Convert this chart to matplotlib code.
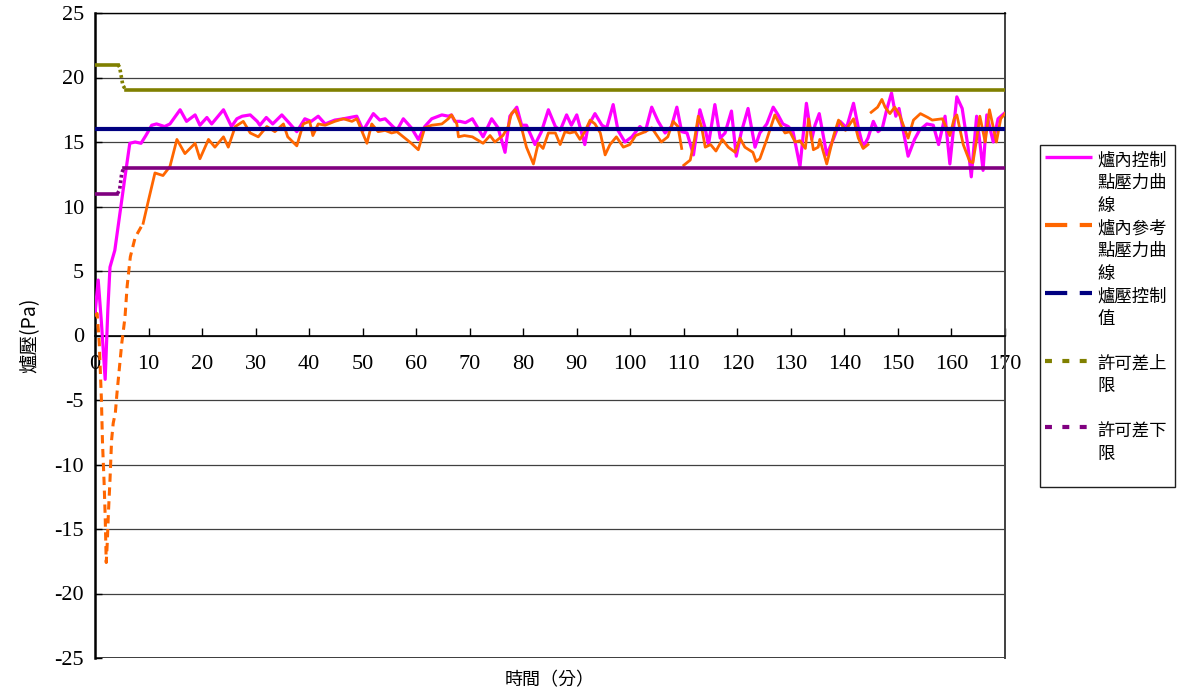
import numpy as np
import matplotlib
matplotlib.use("Agg")
import matplotlib.pyplot as plt
from matplotlib.lines import Line2D
from matplotlib.patches import Rectangle

plt.rcParams['lines.scale_dashes'] = False

# ---------------- data ----------------
pink_t = [0, 0.6, 1.2, 1.9, 2.4, 2.8, 3.7, 4.5, 5.5, 6.5, 7.5, 8.6, 9.5, 10.6, 11.5, 13, 14, 15.9, 17.1, 18.7,
          19.6, 20.9, 21.8, 24, 25.5, 26.5, 27.5, 29, 30.3, 30.8, 32, 33.2, 34.9, 36, 37.7, 39.2, 40.4, 41.7, 43, 44.8,
          46.4, 48.9, 50.1, 52, 53.2, 54.2, 55.4, 56.4, 57.6, 59.1, 60.4, 61.6, 62.9, 64.8, 66, 66.6, 67.2, 68.2, 69.2, 70.5,
          72.5, 74.1, 75.3, 76.6, 77.5, 78.8, 79.7, 80.6, 82.2, 83.4, 84.7, 86, 86.9, 88.1, 89, 90, 91.5, 92.1, 93.4, 94.7,
          95.6, 96.8, 97.7, 99, 100.3, 101.8, 102.8, 104, 105.2, 106.5, 107.7, 108.7, 109.6, 110.6, 111.8, 113, 113.9, 114.6, 115.8, 116.8,
          117.7, 118.9, 119.8, 120.7, 122, 123.3, 124.2, 125.5, 126.7, 127.6, 128.5, 129.5, 130.4, 131.7, 132.9, 133.9, 134.5, 135.3, 136.7, 138,
          139.2, 140.4, 141.7, 142.6, 143.5, 144.4, 145.4, 146.3, 147.1, 147.9, 148.8, 149.6, 150.2, 151.9, 153.1, 154, 155.4, 156.6, 157.6, 158.8,
          159.7, 161, 162, 163.1, 163.7, 164.7, 165.3, 165.9, 166.6, 167.8, 168.7, 169.8]
pink_v = [1.7, 4.3, 1.0, -3.4, 2.0, 5.3, 6.6, 9.0, 12.0, 14.9, 15.0, 14.9, 15.5, 16.3, 16.4, 16.2, 16.4, 17.5, 16.6, 17.1,
          16.3, 16.9, 16.4, 17.5, 16.2, 16.8, 17.0, 17.1, 16.6, 16.3, 16.9, 16.4, 17.1, 16.6, 15.8, 16.8, 16.6, 17.0, 16.4, 16.7,
          16.8, 17.0, 15.9, 17.2, 16.7, 16.8, 16.3, 15.9, 16.8, 16.1, 15.2, 16.2, 16.8, 17.1, 17.0, 17.1, 16.6, 16.6, 16.5, 16.8,
          15.4, 16.8, 16.1, 14.2, 17.0, 17.7, 16.3, 16.3, 14.8, 15.8, 17.5, 16.2, 15.9, 17.1, 16.3, 17.1, 14.8, 16.2, 17.2, 16.3,
          16.1, 17.9, 15.9, 15.0, 15.4, 16.2, 15.8, 17.7, 16.6, 15.7, 16.2, 17.7, 15.8, 15.7, 14.0, 17.5, 16.2, 14.8, 17.9, 15.3,
          15.7, 17.4, 13.9, 15.7, 17.6, 14.6, 15.7, 16.4, 17.7, 17.1, 16.4, 16.2, 15.8, 13.1, 18.0, 15.2, 16.3, 17.2, 14.0, 15.3,
          16.6, 16.1, 18.0, 16.1, 14.6, 15.3, 16.6, 15.8, 16.1, 17.5, 18.8, 17.0, 17.6, 13.9, 15.2, 15.9, 16.4, 16.3, 14.8, 17.0,
          13.3, 18.5, 17.6, 14.6, 12.3, 17.0, 15.0, 12.8, 17.1, 15.0, 16.8, 17.2]

orange_t = [0, 0.4, 0.8, 1.2, 1.4, 1.7, 1.9, 2.1, 2.3, 2.5, 2.8, 3.1, 3.4, 3.8, 4.1, 4.4, 5.0, 5.6, 6.0, 6.6,
            7.5, 9.0, 10.0, 11.2, 12.7, 14.0, 15.3, 16.8, 18.7, 19.6, 21.2, 22.4, 24.0, 24.9, 26.2, 27.7, 29.0, 30.5, 32.1, 33.6,
            35.2, 36, 37.7, 38.9, 40.1, 40.7, 41.7, 43, 44.8, 46.4, 48, 48.9, 49.8, 50.8, 51.7, 52.9, 54.2, 55.4, 56.4, 57.6,
            59.1, 60.4, 61.6, 62.9, 64.8, 66, 66.6, 67.6, 67.9, 69, 70.5, 72.5, 73.8, 74.7, 76.2, 77.2, 77.8, 78.5, 79.5, 80.6,
            81.9, 82.8, 83.7, 84.7, 86, 86.9, 87.8, 88.7, 89.7, 90.6, 91.5, 92.5, 93.4, 94.4, 95.3, 96.2, 97.4, 98.7, 99.9, 101,
            102.8, 104, 105.8, 107, 108, 108.9, 109.6, 109.8, 110, 111.2, 112, 112.7, 113.3, 114, 115, 116, 117.2, 118.3, 119.6, 120.5,
            121.4, 122.9, 123.5, 124.2, 125.5, 127, 127.9, 128.9, 129.8, 130.8, 131.7, 132.7, 133.3, 134.2, 135.1, 135.4, 136.7, 138, 138.9, 140.2,
            141.7, 142.6, 143.5, 144.4, 144.7, 145, 146.2, 147, 147.6, 148.5, 149.4, 150.3, 151.9, 152.9, 154.2, 155.6, 156.4, 158.3, 159.7, 160.5,
            161, 162.2, 163.4, 164, 164.7, 165.3, 166.3, 167.1, 168.4, 169.2, 170]
orange_v = [1.5, 1.7, -0.6, -5.0, -8.3, -11.4, -14.0, -17.6, -16.0, -13.8, -11.2, -8.1, -6.8, -6.0, -4.5, -3.2, -0.6, 1.4, 3.8, 6.1,
            7.6, 8.7, 10.5, 12.6, 12.4, 13.1, 15.2, 14.1, 14.9, 13.7, 15.2, 14.6, 15.4, 14.6, 16.2, 16.6, 15.7, 15.4, 16.2, 15.8,
            16.4, 15.4, 14.7, 16.4, 16.6, 15.5, 16.4, 16.3, 16.6, 16.8, 16.6, 16.8, 15.9, 14.9, 16.4, 15.8, 15.9, 15.7, 15.8, 15.4,
            14.9, 14.4, 16.1, 16.3, 16.4, 16.8, 17.1, 16.4, 15.4, 15.5, 15.4, 14.9, 15.5, 15.0, 15.5, 16.2, 17.2, 17.5, 16.4, 14.6,
            13.3, 14.9, 14.5, 15.7, 15.7, 14.8, 15.8, 15.7, 15.8, 15.2, 15.8, 16.7, 16.4, 15.7, 14.0, 14.8, 15.4, 14.6, 14.8, 15.5,
            15.8, 16.1, 15.0, 15.4, 16.6, 16.2, 14.5, np.nan, 13.2, 13.6, 15.2, 17.0, 16.2, 14.6, 14.8, 14.3, 15.2, 14.6, 14.2, 15.3,
            14.6, 14.2, 13.5, 13.7, 15.2, 17.1, 16.4, 15.7, 15.8, 15.0, 15.1, 14.5, 16.8, 14.4, 14.6, 15.2, 13.3, 15.5, 16.7, 15.9,
            16.8, 15.3, 14.5, 14.8, np.nan, 17.3, 17.7, 18.3, 17.7, 17.2, 17.7, 17.1, 15.3, 16.7, 17.2, 16.9, 16.7, 16.8, 15.5, 16.8,
            17.1, 14.8, 13.5, 13.4, 15.2, 17.0, 15.0, 17.5, 15.0, 16.8, 17.2]

setpoint_t = [0, 170]
setpoint_v = [16, 16]

upper_t = [0, 4.3, 4.6, 5.2, 5.8, 170]
upper_v = [21, 21, 20.8, 19.4, 19, 19]

lower_t = [0, 4.2, 4.6, 5.0, 5.4, 170]
lower_v = [11, 11, 11.3, 12.6, 13, 13]

x_ticks = list(range(0, 171, 10))
y_ticks = list(range(-25, 26, 5))

legend_labels = ["爐內控制\n點壓力曲\n線", "爐內參考\n點壓力曲\n線", "爐壓控制\n值", "許可差上\n限", "許可差下\n限"]
colors = ["#FF00FF", "#FF6600", "#000080", "#808000", "#800080"]

# ---------------- figure ----------------
W, H = 1186, 697
fig = plt.figure(figsize=(W / 100, H / 100), dpi=100)
ax = fig.add_axes([95 / W, 1 - 658 / H, 910 / W, 645 / H])

serif = "Liberation Serif"
cjk = ["Noto Sans CJK TC", "DejaVu Sans"]

# series
ax.plot(pink_t, pink_v, color=colors[0], lw=2.3, zorder=3, solid_joinstyle='round')
ot = np.array(orange_t); ov = np.array(orange_v)
k = int(np.searchsorted(ot, 8.0))
ax.plot(ot[:k + 1], ov[:k + 1], color=colors[1], lw=2.2, zorder=4, dashes=(6, 4))
ax.plot(ot[k:], ov[k:], color=colors[1], lw=2.0, zorder=4)

ax.plot(setpoint_t, setpoint_v, color=colors[2], lw=3.0, zorder=5)
for tt, vv, c in [(upper_t, upper_v, colors[3]), (lower_t, lower_v, colors[4])]:
    ax.plot(tt[:2], vv[:2], color=c, lw=2.6, zorder=5)
    ax.plot(tt[1:5], vv[1:5], color=c, lw=2.6, zorder=5, dashes=(2, 2))
    ax.plot(tt[4:], vv[4:], color=c, lw=2.6, zorder=5)

# axes
ax.set_xlim(0, 170)
ax.set_ylim(-25, 25)
ax.set_yticks(y_ticks)
ax.set_yticklabels([str(v) for v in y_ticks])
ax.set_xticks(x_ticks)
ax.set_xticklabels([str(v) for v in x_ticks])
ax.tick_params(axis='both', labelsize=16, labelfontfamily=serif)
ax.yaxis.grid(True, color="#404040", lw=0.9)
ax.set_axisbelow(True)
ax.spines['bottom'].set_position(('data', 0))
ax.spines['bottom'].set_linewidth(1.2)
ax.spines['left'].set_linewidth(1.8)
ax.spines['top'].set_linewidth(1.0)
ax.spines['right'].set_linewidth(1.4)
ax.spines['right'].set_color("#404040")
ax.axhline(-25, color="#202020", lw=1.2, zorder=1)
ax.tick_params(axis='x', direction='in', length=6, width=1, pad=14)
ax.tick_params(axis='y', direction='in', length=5, width=1, pad=8)

fig.text(30 / W, 1 - 335 / H, "爐壓(Pa)", rotation=90, ha='center', va='center',
         family=cjk, fontsize=14)
fig.text(550 / W, 1 - 680 / H, "時間（分）", ha='center', va='center', family=cjk, fontsize=13)

# legend (manual, Excel-like)
fig.patches.append(Rectangle((1040 / W, 1 - 487 / H), 135 / W, 342 / H, transform=fig.transFigure,
                             fill=False, edgecolor="#202020", lw=1.0))
handle_y = [157, 225, 293, 361, 427]
text_y = [160.5, 228.5, 296.5, 363.5, 431.5]
styles = [dict(lw=2.4), dict(lw=3.0, dashes=(16, 9)), dict(lw=3.0, dashes=(16, 9)),
          dict(lw=3.0, dashes=(5, 7.5)), dict(lw=3.0, dashes=(5, 7.5))]
for i, lab in enumerate(legend_labels):
    y = 1 - handle_y[i] / H
    fig.add_artist(Line2D([1045 / W, 1092 / W], [y, y], transform=fig.transFigure,
                          color=colors[i], solid_capstyle='butt', dash_capstyle='butt', **styles[i]))
    for j, line in enumerate(lab.split("\n")):
        fig.text(1097 / W, 1 - (text_y[i] + 22.8 * j) / H, line, ha='left', va='center',
                 family=cjk, fontsize=12.5)

fig.savefig("out.png", dpi=100)
